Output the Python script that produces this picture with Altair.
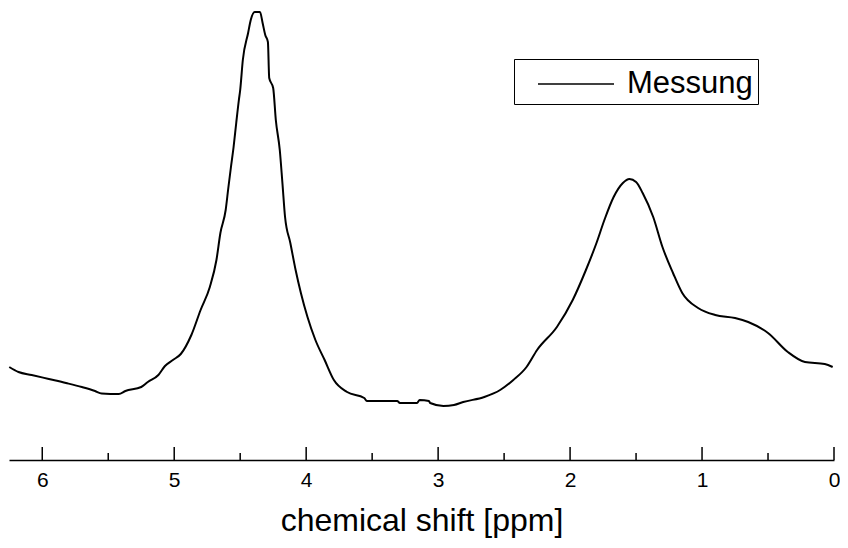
import altair as alt
import pandas as pd

# chemical shift [ppm] and measured intensity (arbitrary units)
shift = [6.25, 6.18, 6.08, 5.95, 5.82, 5.70, 5.60, 5.55, 5.42, 5.37,
         5.25, 5.20, 5.12, 5.07, 5.01, 4.95, 4.87, 4.80, 4.73, 4.68,
         4.65, 4.61, 4.59, 4.57, 4.55, 4.53, 4.51, 4.50, 4.48, 4.44,
         4.42, 4.39, 4.35, 4.33, 4.31, 4.29, 4.28, 4.25, 4.23, 4.20,
         4.18, 4.16, 4.12, 4.08, 4.04, 3.99, 3.93, 3.86, 3.79, 3.69,
         3.56, 3.54, 3.31, 3.29, 3.16, 3.14, 3.07, 3.06, 2.96, 2.88,
         2.81, 2.65, 2.53, 2.43, 2.33, 2.25, 2.10, 1.98, 1.88, 1.80,
         1.74, 1.67, 1.60, 1.55, 1.50, 1.45, 1.37, 1.30, 1.22, 1.15,
         1.03, 0.90, 0.75, 0.65, 0.50, 0.35, 0.22, 0.07, 0.01]
intensity = [93, 88, 85, 81, 77, 73, 69, 66.5, 66, 69,
             73, 78, 85, 94, 100, 106, 125, 150, 173, 200,
             227, 250, 272, 293, 313, 337, 360, 370, 400, 427,
             440, 448, 448, 437, 425, 418, 382, 372, 340, 310,
             277, 243, 217, 190, 167, 143, 120, 100, 80, 68,
             62, 59, 59, 57, 57, 60, 59, 57, 54, 55,
             58, 63, 70, 80, 93, 110, 133, 160, 190, 217,
             240, 263, 277, 281, 278, 267, 243, 213, 187, 167,
             152, 145, 142, 138, 127, 108, 98, 96, 93]
series_name = "Messung"

major_ticks = [0, 1, 2, 3, 4, 5, 6]
minor_ticks = [0.5, 1.5, 2.5, 3.5, 4.5, 5.5]

df = pd.DataFrame({"shift": shift, "intensity": intensity, "series": series_name})
major_df = pd.DataFrame({"shift": major_ticks})
minor_df = pd.DataFrame({"shift": minor_ticks})

W, H = 825, 452
FONT = "Liberation Sans"

xscale = alt.Scale(domain=[0, 6.252], reverse=True, nice=False, zero=False)
xaxis = alt.Axis(values=major_ticks, title="chemical shift [ppm]", ticks=False, tickSize=0,
                 grid=False, labelFontSize=21, labelFont=FONT, labelColor="black",
                 labelPadding=9, labelFlush=False, titleFontSize=32, titleFont=FONT,
                 titleFontWeight="normal", titleColor="black", titlePadding=15,
                 domainColor="black", domainWidth=1.6, format="d")

line = alt.Chart(df).mark_line(strokeWidth=2, interpolate="monotone").encode(
    x=alt.X("shift:Q", scale=xscale, axis=xaxis),
    y=alt.Y("intensity:Q", scale=alt.Scale(domain=[0, H]), axis=None),
    color=alt.Color("series:N", scale=alt.Scale(range=["black"]),
                    legend=alt.Legend(title=None, orient="none", legendX=505, legendY=51,
                                      strokeColor="black", padding=5,
                                      symbolType="M-2,0H2", symbolSize=1444,
                                      symbolStrokeWidth=1.6, symbolStrokeColor="black",
                                      symbolOffset=37, labelFontSize=31, labelFont=FONT,
                                      labelColor="black", labelOffset=31)),
)

major = alt.Chart(major_df).mark_rule(color="black", strokeWidth=1.5).encode(
    x=alt.X("shift:Q", scale=xscale, axis=xaxis),
    y=alt.value(H - 13),
    y2=alt.value(H),
)
minor = alt.Chart(minor_df).mark_rule(color="black", strokeWidth=1.5).encode(
    x=alt.X("shift:Q", scale=xscale, axis=xaxis),
    y=alt.value(H - 7),
    y2=alt.value(H),
)

chart = alt.layer(line, major, minor).properties(
    width=W, height=H,
    autosize=alt.AutoSizeParams(type="none"),
    padding={"left": 1, "top": 0, "right": 6, "bottom": 78},
).configure_view(stroke=None)

chart.save("out.html", embed_options={"renderer": "svg", "actions": False})
